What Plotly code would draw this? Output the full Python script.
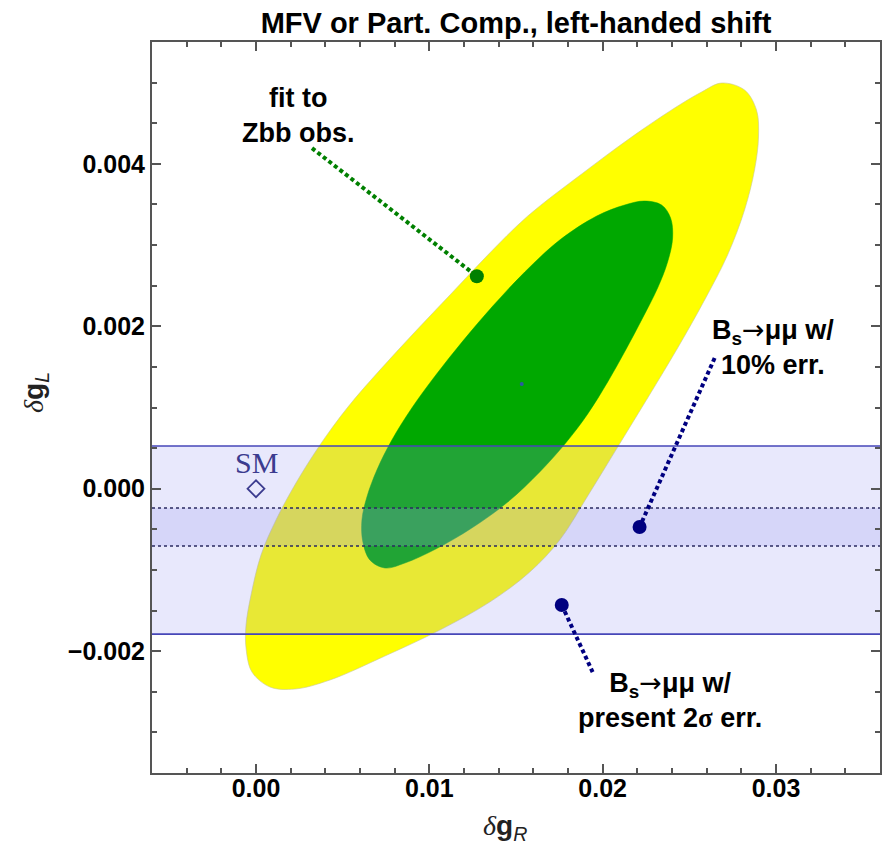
import plotly.graph_objects as go

# ---------------- data ----------------
# outer (yellow) contour of the Zbb fit, traced clockwise from its top
yellow_x = [0.026859, 0.028185, 0.028876, 0.028991, 0.028761, 0.028185, 0.027205, 0.025879, 0.024323, 0.022594,
            0.020865, 0.019135, 0.017522, 0.015793, 0.013487, 0.010605, 0.007435, 0.004265, 0.002248, 0.000807,
            -0.000231, -0.000576, -0.000576, -0.000288, 0.000288, 0.001153, 0.002305, 0.003689, 0.005303, 0.007147,
            0.009164, 0.011297, 0.013372, 0.015677, 0.018790, 0.021672, 0.024150, 0.025706, 0.026859]
yellow_y = [0.004995, 0.004909, 0.004662, 0.004330, 0.003924, 0.003431, 0.002877, 0.002323, 0.001732, 0.001117,
            0.000513, -0.000090, -0.000632, -0.001026, -0.001395, -0.001740, -0.002060, -0.002355, -0.002466, -0.002441,
            -0.002257, -0.001961, -0.001678, -0.001309, -0.000816, -0.000385, 0.000070, 0.000538, 0.001006, 0.001461,
            0.001929, 0.002409, 0.002877, 0.003357, 0.003875, 0.004330, 0.004687, 0.004884, 0.004995]
# inner (green) contour, traced clockwise from its top
green_x = [0.022421, 0.023401, 0.023919, 0.024035, 0.023746, 0.023170, 0.022305, 0.021326, 0.020288, 0.019135,
           0.017867, 0.016369, 0.014525, 0.012450, 0.010375, 0.008588, 0.007435, 0.006571, 0.006167, 0.006110,
           0.006398, 0.006974, 0.007839, 0.008991, 0.010375, 0.011931, 0.013660, 0.015504, 0.017522, 0.019654,
           0.021268, 0.022421]
green_y = [0.003542, 0.003493, 0.003333, 0.003087, 0.002791, 0.002471, 0.002102, 0.001708, 0.001314, 0.000920,
           0.000563, 0.000206, -0.000164, -0.000484, -0.000742, -0.000915, -0.000976, -0.000878, -0.000656, -0.000385,
           -0.000102, 0.000230, 0.000600, 0.000994, 0.001400, 0.001818, 0.002249, 0.002668, 0.003062, 0.003357,
           0.003493, 0.003542]
best_fit = (0.01533, 0.00129)
sm_point = (0.0, 0.0)

# Bs -> mu mu bands in delta g_L
band_present = [-0.00179, 0.000526]
band_10pct = [-0.000706, -0.000238]

x_range = [-0.006, 0.036]
y_range = [-0.0035, 0.0055]

# annotation points / leader lines
zbb_label = (0.00245, 0.004600)
zbb_line_x = [0.00323, 0.01274]
zbb_line_y = [0.004193, 0.002616]
b10_label = (0.02980, 0.001740)
b10_line_x = [0.02646, 0.02213]
b10_line_y = [0.001609, -0.000472]
b2s_label = (0.02386, -0.002602)
b2s_line_x = [0.01764, 0.01942]
b2s_line_y = [-0.001432, -0.002257]
sm_label_y = 0.00032

# ---------------- figure ----------------
fig = go.Figure()

fig.add_trace(go.Scatter(x=yellow_x, y=yellow_y, mode="lines", fill="toself",
                         fillcolor="#ffff00",
                         line=dict(color="rgba(200,200,150,0.6)", width=1, shape="spline", smoothing=1.0),
                         hoverinfo="skip", showlegend=False))
fig.add_trace(go.Scatter(x=green_x, y=green_y, mode="lines", fill="toself",
                         fillcolor="#00a800", line=dict(color="#00a800", width=0.5, shape="spline", smoothing=1.0),
                         hoverinfo="skip", showlegend=False))

band_fill = "rgba(150,150,240,0.22)"
for lo, hi in (band_present, band_10pct):
    fig.add_trace(go.Scatter(x=[x_range[0], x_range[1], x_range[1], x_range[0], x_range[0]],
                             y=[lo, lo, hi, hi, lo], mode="lines", fill="toself",
                             fillcolor=band_fill, line=dict(width=0),
                             hoverinfo="skip", showlegend=False))
for v in band_present:
    fig.add_trace(go.Scatter(x=x_range, y=[v, v], mode="lines",
                             line=dict(color="#4646b8", width=1.6), hoverinfo="skip", showlegend=False))
for v in band_10pct:
    fig.add_trace(go.Scatter(x=x_range, y=[v, v], mode="lines",
                             line=dict(color="#2a2a60", width=1.6, dash="3px,3px"),
                             hoverinfo="skip", showlegend=False))

# best fit point
fig.add_trace(go.Scatter(x=[best_fit[0]], y=[best_fit[1]], mode="markers",
                         marker=dict(color="#2b5aa0", size=4), hoverinfo="skip", showlegend=False))
# SM point
fig.add_trace(go.Scatter(x=[sm_point[0]], y=[sm_point[1]], mode="markers",
                         marker=dict(symbol="diamond-open", color="#3b3b8f", size=13, line=dict(width=1.8)),
                         hoverinfo="skip", showlegend=False))

# leader lines + dots
for lx, ly, col, dotidx in ((zbb_line_x, zbb_line_y, "#008000", 1),
                            (b10_line_x, b10_line_y, "#000080", 1),
                            (b2s_line_x, b2s_line_y, "#000080", 0)):
    fig.add_trace(go.Scatter(x=lx, y=ly, mode="lines",
                             line=dict(color=col, width=4, dash="4px,3px"),
                             hoverinfo="skip", showlegend=False))
    fig.add_trace(go.Scatter(x=[lx[dotidx]], y=[ly[dotidx]], mode="markers",
                             marker=dict(color=col, size=14), hoverinfo="skip", showlegend=False))

SANS = "Liberation Sans, Arial, sans-serif"
SERIF = "Liberation Serif, Times New Roman, serif"
ARROW = "<span style=\"font-family:DejaVu Sans, sans-serif; font-weight:normal\">→</span>"
ann_font = dict(family=SANS, size=27, color="black", weight="bold")
fig.add_annotation(x=zbb_label[0], y=zbb_label[1], text="fit to<br>Zbb obs.", showarrow=False,
                   font=ann_font, align="center")
fig.add_annotation(x=b10_label[0], y=b10_label[1], text="B<sub>s</sub>" + ARROW + "μμ w/<br>10% err.",
                   showarrow=False, font=ann_font, align="center")
fig.add_annotation(x=b2s_label[0], y=b2s_label[1],
                   text="B<sub>s</sub>" + ARROW + "μμ w/<br>present 2<span style=\"font-family:Liberation Serif, serif\">σ</span> err.",
                   showarrow=False, font=ann_font, align="center")
fig.add_annotation(x=sm_point[0], y=sm_label_y, text="SM", showarrow=False,
                   font=dict(family=SERIF, size=30, color="#3b3b8f"))

# axis titles (placed in paper coordinates)
fig.add_annotation(xref="paper", yref="paper", x=0.485, y=-0.075, yanchor="middle",
                   text="<span style=\"font-family:Liberation Serif, serif\"><i>δ</i></span><b>g</b><sub><i>R</i></sub>",
                   showarrow=False, font=dict(family=SANS, size=28, color="#222"))
fig.add_annotation(xref="paper", yref="paper", x=-0.161, y=0.521, xanchor="center", yanchor="middle",
                   textangle=-90,
                   text="<span style=\"font-family:Liberation Serif, serif\"><i>δ</i></span><b>g</b><sub><i>L</i></sub>",
                   showarrow=False, font=dict(family=SANS, size=28, color="#222"))

axis_common = dict(showline=True, linecolor="#555555", linewidth=2, mirror="ticks",
                   ticks="inside", ticklen=9, tickwidth=1.5, tickcolor="#555555",
                   showgrid=False, zeroline=False, automargin=False,
                   tickfont=dict(family=SANS, size=25, color="black", weight="bold"))

fig.update_xaxes(range=x_range, tick0=0, dtick=0.01, tickformat=".2f",
                 minor=dict(ticks="inside", dtick=0.002, tick0=0, ticklen=5, tickcolor="#555555", showgrid=False),
                 ticklabelstandoff=-8, **axis_common)
fig.update_yaxes(range=y_range, tick0=0, dtick=0.002, tickformat=".3f",
                 minor=dict(ticks="inside", dtick=0.0005, tick0=0, ticklen=5, tickcolor="#555555", showgrid=False),
                 ticklabelstandoff=0, **axis_common)

# the page body adds an 8px offset, so the figure is 8px smaller and the margins 8px tighter
fig.update_layout(
    width=883, height=842,
    margin=dict(l=144, r=11, t=34, b=77),
    paper_bgcolor="white", plot_bgcolor="white",
    title=dict(text="<b>MFV or Part. Comp., left-handed shift</b>", x=0.5, xref="paper",
               y=1 - 15 / 842, yref="container", yanchor="middle",
               font=dict(family=SANS, size=29, color="black")),
)

fig.write_html("out.html")
